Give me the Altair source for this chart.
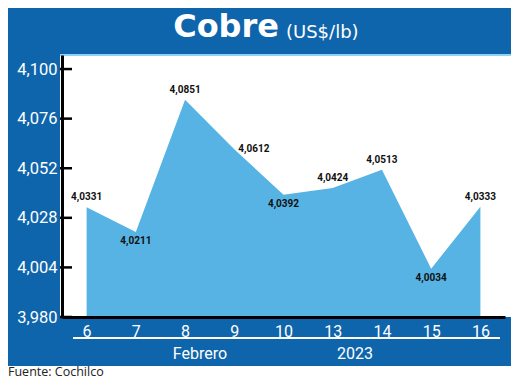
import altair as alt
import pandas as pd

# ---- data ----
days = ["6", "7", "8", "9", "10", "13", "14", "15", "16"]
prices = [4.0331, 4.0211, 4.0851, 4.0612, 4.0392, 4.0424, 4.0513, 4.0034, 4.0333]
label_side = ["above", "below", "above", "right", "below", "above", "above", "below", "above"]
y_ticks = [3.980, 4.004, 4.028, 4.052, 4.076, 4.100]
y_domain = [3.98, 4.1068]
title_main = "Cobre"
title_unit = "(US$/lb)"
month_text = "Febrero"
year_text = "2023"
source_text = "Fuente: Cochilco"

BLUE = "#0f65ab"
AREA = "#56b3e3"
NARROW = "Roboto"

W, H = 443, 262

df = pd.DataFrame({"day": days, "price": prices, "side": label_side})
ticks_df = pd.DataFrame({"price": y_ticks})
one = alt.Data(values=[{}])

yscale = alt.Scale(domain=y_domain, zero=False, nice=False)
xscale = alt.Scale(type="point", padding=0.5)

x_axis = alt.Axis(
    title=None, ticks=False, grid=False, domainColor="black", domainWidth=3,
    labelColor="white", labelFont=NARROW, labelFontSize=16, labelPadding=6,
    labelAngle=0, zindex=1,
)
y_axis = alt.Axis(
    title=None, ticks=False, grid=False, domainColor="black", domainWidth=3,
    values=y_ticks, labelColor="white", labelFont=NARROW, labelFontSize=16.5,
    labelPadding=5, zindex=1,
    labelExpr="replace(format(datum.value, '.3f'), '.', ',')",
)

X = alt.X("day:O", sort=days, scale=xscale, title=None)
Y = alt.Y("price:Q", scale=yscale, title=None)

# decorations
frame = alt.Chart(one).mark_rect(color=BLUE).encode(
    x=alt.value(-54), x2=alt.value(449), y=alt.value(-47), y2=alt.value(311)
)
white = alt.Chart(one).mark_rect(color="white").encode(
    x=alt.value(-2), x2=alt.value(449), y=alt.value(0), y2=alt.value(H)
)
topline = alt.Chart(one).mark_rule(color="#8fd0f5", strokeWidth=2).encode(
    x=alt.value(-2), x2=alt.value(449), y=alt.value(0)
)

area = alt.Chart(df).mark_area(color=AREA, opacity=1).encode(
    x=alt.X("day:O", sort=days, scale=xscale, axis=x_axis),
    y=alt.Y("price:Q", scale=yscale, axis=y_axis),
    y2=alt.datum(y_domain[0]),
)

tick_rules = alt.Chart(ticks_df).mark_rule(color="black", strokeWidth=2.5).encode(
    y=Y, x=alt.value(-2), x2=alt.value(10)
)

lab_calc = "replace(format(datum.price, '.4f'), '.', ',')"
LAB = dict(font=NARROW, fontSize=10, fontWeight="bold", color="#111")
base_lab = alt.Chart(df).transform_calculate(lab=lab_calc)
lab_above = base_lab.transform_filter("datum.side == 'above'").mark_text(
    baseline="bottom", dy=-5, **LAB
).encode(x=X, y=Y, text="lab:N")
lab_below = base_lab.transform_filter("datum.side == 'below'").mark_text(
    baseline="top", dy=4, **LAB
).encode(x=X, y=Y, text="lab:N")
lab_right = base_lab.transform_filter("datum.side == 'right'").mark_text(
    baseline="middle", align="left", dx=4, **LAB
).encode(x=X, y=Y, text="lab:N")

t_main = alt.Chart(one).mark_text(
    text=title_main, font="DejaVu Sans", fontWeight="bold", fontSize=32,
    color="white", align="right", baseline="alphabetic"
).encode(x=alt.value(217), y=alt.value(-18))
t_unit = alt.Chart(one).mark_text(
    text=title_unit, font="DejaVu Sans", fontSize=18,
    color="white", align="left", baseline="alphabetic"
).encode(x=alt.value(224), y=alt.value(-17))

bottom_line = alt.Chart(one).mark_rule(color="white", strokeWidth=2).encode(
    x=alt.value(11), x2=alt.value(438), y=alt.value(283)
)
t_month = alt.Chart(one).mark_text(
    text=month_text, font=NARROW, fontSize=16, color="white", baseline="middle"
).encode(x=alt.value(138), y=alt.value(299))
t_year = alt.Chart(one).mark_text(
    text=year_text, font=NARROW, fontSize=16, color="white", baseline="middle"
).encode(x=alt.value(293), y=alt.value(299))
t_src = alt.Chart(one).mark_text(
    text=source_text, font="Open Sans", fontSize=12.5, color="#222",
    align="left", baseline="alphabetic"
).encode(x=alt.value(-54), y=alt.value(321))

chart = alt.layer(
    frame, white, topline, area, tick_rules, lab_above, lab_below, lab_right,
    t_main, t_unit, bottom_line, t_month, t_year, t_src,
).properties(
    width=W, height=H,
    padding={"left": 54, "top": 47, "right": 6, "bottom": 64},
    autosize=alt.AutoSizeParams(type="none"),
    background="white",
).configure_view(strokeWidth=0)

chart.save("out.html", embed_options={"renderer": "svg", "actions": False})
